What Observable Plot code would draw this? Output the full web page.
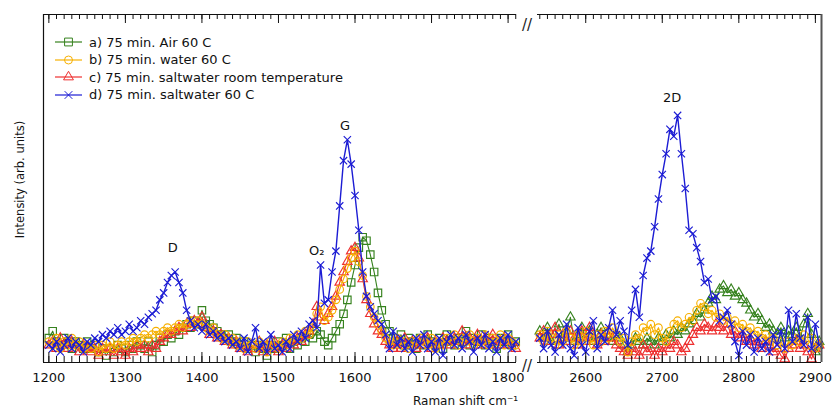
<!DOCTYPE html>
<html><head><meta charset="utf-8">
<script src="https://cdn.jsdelivr.net/npm/d3@7"></script>
<script src="https://cdn.jsdelivr.net/npm/@observablehq/plot@0.6"></script>
<style>
body{margin:0;background:#fff;}
#wrap{position:relative;width:834px;height:411px;font-family:"DejaVu Sans",sans-serif;background:#fff;}
#legend{position:absolute;left:0;top:0;}
.row{position:absolute;display:flex;align-items:center;height:16px;font-size:13px;color:#111;white-space:nowrap;}
.row span{margin-left:3px;}
</style></head><body>
<div id="wrap"><div id="chart"></div><div id="legend"></div></div>
<script>
// ---- categories ----
const seriesNames = ["a) 75 min. Air 60 C", "b) 75 min. water 60 C", "c) 75 min. saltwater room temperature", "d) 75 min. saltwater 60 C"];
const seriesColors = ["#36821e", "#f7b000", "#ee2f2f", "#1c1cd4"];

// Raman shift sampling (cm^-1)
const wnLeft = [
1200,1205,1210,1215,1220,1225,1230,1235,1240,1245,1250,1255,1260,1265,1270,1275,1280,1285,1290,1295,
1300,1305,1310,1315,1320,1325,1330,1335,1340,1345,1350,1355,1360,1365,1370,1375,1380,1385,1390,1395,
1400,1405,1410,1415,1420,1425,1430,1435,1440,1445,1450,1455,1460,1465,1470,1475,1480,1485,1490,1495,
1500,1505,1510,1515,1520,1525,1530,1535,1540,1545,1550,1555,1560,1565,1570,1575,1580,1585,1590,1595,
1600,1605,1610,1615,1620,1625,1630,1635,1640,1645,1650,1655,1660,1665,1670,1675,1680,1685,1690,1695,
1700,1705,1710,1715,1720,1725,1730,1735,1740,1745,1750,1755,1760,1765,1770,1775,1780,1785,1790,1795,
1800,1805,1810];
const wnRight = [
2540,2545,2550,2555,2560,2565,2570,2575,2580,2585,2590,2595,
2600,2605,2610,2615,2620,2625,2630,2635,2640,2645,2650,2655,2660,2665,2670,2675,2680,2685,2690,2695,
2700,2705,2710,2715,2720,2725,2730,2735,2740,2745,2750,2755,2760,2765,2770,2775,2780,2785,2790,2795,
2800,2805,2810,2815,2820,2825,2830,2835,2840,2845,2850,2855,2860,2865,2870,2875,2880,2885,2890,2895,
2900,2905];

// ---- series values (arb. units) ----
const airLeft = [
7,9,6,5,7,6,4,6,5,4,6,4,5,3,4,2,4,3,5,4,
3,5,4,6,5,4,6,3,5,7,6,8,7,9,8,10,11,10,12,11,
15,12,11,10,9,8,7,8,6,7,5,6,4,5,3,5,4,2,5,4,
6,5,7,4,6,5,7,6,8,7,9,8,6,5,7,9,11,14,18,23,
28,33,36,35,31,26,20,15,11,9,7,6,8,5,7,6,4,7,5,8,
6,5,7,4,8,6,5,7,6,9,5,7,6,8,5,7,6,4,7,6,
8,5,6];
const waterLeft = [
6,5,7,4,6,5,7,5,6,4,5,4,5,3,5,4,6,4,5,6,
5,6,7,6,7,8,7,8,9,8,9,10,9,10,11,10,11,12,11,12,
11,10,9,10,8,7,8,6,7,5,6,4,6,5,4,6,5,3,6,5,
4,6,5,7,6,8,7,9,8,10,14,16,12,13,15,18,21,24,27,30,
32,29,25,19,16,13,11,9,7,6,5,7,5,6,4,6,5,7,6,5,
7,4,6,5,7,6,8,5,7,6,8,5,7,6,8,5,7,6,8,5,
7,6,5];
const saltRoomLeft = [
5,6,4,7,5,4,6,5,3,5,4,3,4,2,4,3,4,2,4,3,
2,4,3,5,4,5,3,5,4,6,7,8,8,9,10,9,11,10,12,11,
13,10,8,9,7,8,6,7,5,6,4,5,3,5,4,6,3,5,4,6,
3,5,4,6,5,7,6,8,9,11,16,13,12,14,16,19,23,26,29,32,
33,30,24,18,14,11,9,8,6,5,4,6,4,7,5,6,4,6,5,7,
4,6,5,7,6,5,7,6,9,5,7,6,8,5,7,6,8,5,6,7,
5,6,4];
const salt60Left = [
5,4,6,3,5,7,4,6,5,3,6,5,7,6,8,7,9,8,10,8,
9,11,9,10,12,11,13,14,15,18,20,23,25,26,23,20,15,12,10,11,
9,11,8,9,7,8,6,7,5,6,4,7,3,6,10,4,6,3,8,4,
5,3,6,4,8,6,9,7,11,12,10,28,17,18,26,32,45,58,64,57,
48,38,26,19,16,14,12,11,8,4,9,5,7,4,6,3,7,5,8,4,
6,3,7,2,6,8,5,7,4,8,6,3,7,5,8,4,6,3,7,5,
8,4,6];

const airRight = [
9,7,10,6,8,11,7,9,13,6,8,10,
7,9,6,8,10,7,9,6,8,7,5,3,5,7,6,5,7,6,5,7,
6,8,7,9,8,10,9,11,12,14,13,15,17,19,18,21,22,20,21,19,
20,18,17,15,13,14,12,10,11,9,8,10,7,9,8,10,7,11,14,8,
3,6];
const waterRight = [
8,6,9,7,5,8,6,9,7,5,8,6,
9,7,5,8,6,9,7,10,8,6,7,3,6,8,7,10,9,11,8,10,
7,6,9,11,12,10,11,13,12,15,17,16,14,15,13,14,12,13,11,12,
10,11,9,10,8,9,7,8,6,7,5,6,4,6,5,7,6,8,5,7,
4,5];
const saltRoomRight = [
7,9,6,8,10,5,8,6,9,7,5,9,
6,10,7,5,8,6,9,7,5,4,3,2,4,3,2,5,3,4,2,4,
3,5,4,6,5,3,4,6,8,10,9,11,10,9,11,10,9,11,8,9,
7,8,6,7,5,6,4,6,5,3,4,2,1,4,5,6,4,5,3,1,
4,5];
const salt60Right = [
7,4,9,5,3,8,5,11,4,2,10,5,
3,9,12,4,8,6,10,15,8,12,9,5,15,21,13,25,30,32,39,47,
54,60,67,65,71,60,50,38,37,33,29,23,24,18,19,12,13,15,11,6,
2,9,5,8,3,7,4,6,3,8,5,9,4,15,6,14,7,5,13,4,
11,5];

// ---- axis ticks / annotations ----
const majorTicks = [1200,1300,1400,1500,1600,1700,1800,2600,2700,2800,2900];
const minorTicks = [...d3.range(1200, 1811, 10), ...d3.range(2540, 2901, 10)];
const panelDomains = [[1193, 1811], [2537, 2908]];
const peakLabels = ["D", "G", "O\u2082", "2D"];
const peakWn = [1362, 1587, 1550, 2713];
const peakV = [33, 68, 32, 76];

// ---- build table ----
const leftVals = [airLeft, waterLeft, saltRoomLeft, salt60Left];
const rightVals = [airRight, waterRight, saltRoomRight, salt60Right];
const rows = [];
seriesNames.forEach((name, k) => {
  wnLeft.forEach((w, i) => rows.push({series: k, panel: "left", wn: w, v: leftVals[k][i]}));
  wnRight.forEach((w, i) => rows.push({series: k, panel: "right", wn: w, v: rightVals[k][i]}));
});

const symbolsLeft = ["square", "circle", "triangle", "times"];
const symbolsRight = ["triangle", "circle", "triangle", "times"];
const radii = {square: 4.2, circle: 3.8, triangle: 3.5, times: 3.4};

const marks = [];
for (const k of [0, 2, 1, 3]) {
  const data = rows.filter(r => r.series === k);
  marks.push(Plot.line(data, {x: "wn", y: "v", z: "panel", stroke: seriesColors[k], strokeWidth: k === 3 ? 1.4 : 1.1}));
  for (const [panel, syms] of [["left", symbolsLeft], ["right", symbolsRight]]) {
    marks.push(Plot.dot(data.filter(r => r.panel === panel), {
      x: "wn", y: "v", symbol: syms[k], r: radii[syms[k]],
      stroke: seriesColors[k], fill: "none", strokeWidth: 1.15
    }));
  }
}

// frame
for (const [a, b] of panelDomains) {
  marks.push(Plot.ruleY([0], {x1: a, x2: b, stroke: "#111", strokeWidth: 1.2}));
  marks.push(Plot.ruleY([100], {x1: a, x2: b, stroke: "#111", strokeWidth: 1.2}));
}
marks.push(Plot.ruleX([panelDomains[0][0]], {stroke: "#111", strokeWidth: 1.2}));
marks.push(Plot.ruleX([panelDomains[1][1]], {stroke: "#555", strokeWidth: 2}));
// inward ticks
marks.push(Plot.ruleX(minorTicks, {stroke: "#111", insetTop: 342}));
marks.push(Plot.ruleX(majorTicks, {stroke: "#111", insetTop: 338}));
marks.push(Plot.ruleX(minorTicks, {stroke: "#111", insetBottom: 343}));
marks.push(Plot.ruleX(majorTicks, {stroke: "#111", insetBottom: 339}));
marks.push(Plot.axisX(majorTicks, {tickSize: 0, tickPadding: 10, fontSize: 13, label: null, tickFormat: d => `${d}`, fill: "#111"}));
// axis breaks
const gapMid = (panelDomains[0][1] + panelDomains[1][0]) / 2;
marks.push(Plot.text(["//"], {x: gapMid, frameAnchor: "top", dy: 5, fontSize: 15, fill: "#222"}));
marks.push(Plot.text(["//"], {x: gapMid, frameAnchor: "bottom", dy: 8, fontSize: 15, fill: "#222"}));
// peak labels
marks.push(Plot.text(peakLabels, {x: (d, i) => peakWn[i], y: (d, i) => peakV[i], fontSize: 13, fill: "#111"}));
// axis titles
marks.push(Plot.text(["Raman shift cm\u207B\u00B9"], {frameAnchor: "bottom", dx: 33, dy: 42, fontSize: 12, fill: "#111"}));
marks.push(Plot.text(["Intensity (arb. units)"], {frameAnchor: "left", textAnchor: "middle", rotate: -90, dx: -23, dy: -9, fontSize: 11.5, fill: "#111"}));

const chart = Plot.plot({
  width: 834, height: 411,
  marginTop: 14, marginBottom: 49, marginLeft: 43, marginRight: 13,
  x: {type: "linear", domain: [panelDomains[0][0], panelDomains[0][1], panelDomains[1][0], panelDomains[1][1]], range: [43, 516, 537, 821]},
  y: {domain: [0, 100], range: [362, 14], axis: null},
  style: {fontFamily: "DejaVu Sans", fontSize: "13px", background: "white", overflow: "visible"},
  marks
});
document.getElementById("chart").appendChild(chart);

// ---- legend ----
const legend = d3.select("#legend");
const legendTops = [42, 59.5, 77, 94.5];
seriesNames.forEach((name, k) => {
  const row = legend.append("div").attr("class", "row").style("left", "52px").style("top", (legendTops[k] - 8) + "px");
  const svg = row.append("svg").attr("width", 34).attr("height", 16);
  svg.append("line").attr("x1", 3).attr("x2", 30).attr("y1", 8).attr("y2", 8).attr("stroke", seriesColors[k]).attr("stroke-width", 1.2);
  const sym = {square: d3.symbolSquare, circle: d3.symbolCircle, triangle: d3.symbolTriangle, times: d3.symbolTimes}[symbolsLeft[k]];
  const rr = radii[symbolsLeft[k]] * 1.05;
  svg.append("path").attr("transform", "translate(16.5,8)").attr("d", d3.symbol(sym, Math.PI * rr * rr)())
    .attr("fill", "none").attr("stroke", seriesColors[k]).attr("stroke-width", 1);
  row.append("span").text(name);
});
</script>
</body></html>
